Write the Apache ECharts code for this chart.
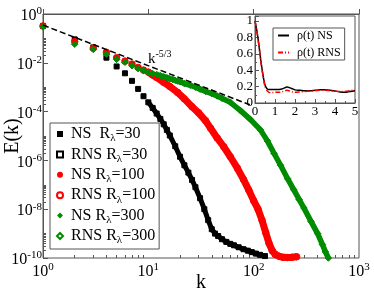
<!DOCTYPE html>
<html><head><meta charset="utf-8">
<script src="https://cdn.jsdelivr.net/npm/echarts@6/dist/echarts.min.js"></script>
<style>html,body{margin:0;padding:0;background:#fff}#c{width:374px;height:289px}</style>
</head><body><div id="c"></div>
<script>
// ---- data (E values given as log10 E) ----
const ns30K = [1,2,3,4,5,6,7,8,9,10,11,12,13,14,15,16,18,20,22,24,26,28,31,34,37,40,43,46,50,55,60,65,72,80,88,96,105,115,128];
const ns30LogE = [-0.49,-1.04,-1.37,-1.79,-2.15,-2.43,-2.74,-3.07,-3.37,-3.62,-3.85,-4.08,-4.3,-4.52,-4.75,-4.98,-5.42,-5.85,-6.2,-6.5,-6.8,-7.1,-7.55,-8.0,-8.45,-8.82,-9.0,-9.1,-9.23,-9.34,-9.42,-9.48,-9.56,-9.64,-9.7,-9.76,-9.82,-9.87,-9.92];
const ns100K = [1,2,3,4,5,6,7,8,9,10,11,12,14,16,19,22,26,30,35,39,45,52,60,70,80,90,100,110,120,130,140,150,160,175,190,210,230,256];
const ns100LogE = [-0.49,-1.13,-1.40,-1.57,-1.79,-1.93,-2.05,-2.19,-2.3,-2.38,-2.5,-2.6,-2.8,-2.97,-3.22,-3.48,-3.8,-4.05,-4.38,-4.68,-5.08,-5.44,-5.85,-6.32,-6.78,-7.22,-7.65,-8.0,-8.45,-8.95,-9.4,-9.7,-9.85,-9.93,-9.97,-9.98,-9.97,-9.95];
const ns300K = [1,2,3,4,5,6,7,8,9,10,11,12,13,14,15,16,17,18,19,20,22,25,28,31,35,40,45,50,60,75,93,116,135,156,180,210,240,270,300,350,405,450,480,512];
const ns300LogE = [-0.53,-1.24,-1.45,-1.65,-1.86,-1.98,-2.12,-2.24,-2.33,-2.4,-2.44,-2.48,-2.53,-2.57,-2.61,-2.65,-2.68,-2.72,-2.75,-2.78,-2.85,-2.92,-3.0,-3.08,-3.17,-3.26,-3.36,-3.45,-3.62,-3.96,-4.32,-4.75,-5.2,-5.71,-6.2,-6.75,-7.2,-7.6,-7.95,-8.5,-9.0,-9.45,-9.75,-10.0];
// RNS spectra lie on top of the NS spectra in the picture
const rns30LogE = ns30LogE, rns100LogE = ns100LogE, rns300LogE = ns300LogE;
// k^-5/3 reference line end points
const refK = [1, 92];
const refE = [0.35, 1.9e-4];
// inset: correlation rho(t)
const insetT = [0,0.1,0.2,0.3,0.4,0.5,0.6,0.7,0.8,1.0,1.2,1.4,1.6,1.8,2.0,2.25,2.5,2.75,3.0,3.25,3.5,3.75,4.0,4.25,4.5,4.75,5.0];
const rhoNS  = [1.0,0.87,0.70,0.50,0.34,0.22,0.175,0.165,0.165,0.165,0.165,0.175,0.195,0.18,0.16,0.155,0.15,0.15,0.155,0.16,0.16,0.155,0.145,0.135,0.13,0.14,0.15];
const rhoRNS = [1.0,0.86,0.69,0.49,0.33,0.2,0.15,0.13,0.125,0.13,0.13,0.14,0.155,0.14,0.13,0.135,0.14,0.145,0.15,0.155,0.155,0.15,0.145,0.14,0.14,0.15,0.16];
// tick labels
const xTickExps = [0,1,2,3];
const yTickExps = [0,-2,-4,-6,-8,-10];
const yMinorTicks = [];
[-10,-8,-6,-4,-2].forEach(e=>{[2,3,4,5,6,7,8,9,10].forEach(m=>yMinorTicks.push(e+Math.log10(m)));});
const xMinorTicks = [];
[0,1,2].forEach(e=>{[2,3,4,5,6,7,8,9].forEach(m=>xMinorTicks.push(e+Math.log10(m)));});

const FONT = 'Liberation Serif';
const pairs = (ks, logs) => ks.map((k,i)=>[k, Math.pow(10, logs[i])]);
const tail = (arr, kmin) => arr.filter(p=>p[0]>=kmin);

const supRich = {
  b:{fontFamily:FONT,fontSize:16,color:'#000',lineHeight:16,padding:[4,0,0,0]},
  s:{fontFamily:FONT,fontSize:11,color:'#000',lineHeight:11,verticalAlign:'top'}
};
function powLabel(exps){
  return function(v){
    const e = Math.round(Math.log10(v));
    if (exps.indexOf(e) < 0) return '';
    return '{b|10}{s|' + e + '}';
  };
}
const FRAME = '#555';
const BLACK='#000', RED='#ff0000', GREEN='#008c00';

const d30 = pairs(ns30K, ns30LogE), r30 = pairs(ns30K, rns30LogE);
const d100 = pairs(ns100K, ns100LogE), r100 = pairs(ns100K, rns100LogE);
const d300 = pairs(ns300K, ns300LogE), r300 = pairs(ns300K, rns300LogE);

const names = ['NS  Rλ=30','RNS Rλ=30','NS Rλ=100','RNS Rλ=100','NS Rλ=300','RNS Rλ=300'];

function scatter(name, data, symbol, size, color, hollow){
  return {type:'scatter', name, data, xAxisIndex:0, yAxisIndex:0, symbol, symbolSize:size, clip:false, z:3,
    itemStyle: hollow ? {color:'rgba(0,0,0,0)', borderColor:color, borderWidth:1, opacity:1} : {color, opacity:1},
    emphasis:{disabled:true}};
}
function tailLine(data, color, width){
  return {type:'line', data, xAxisIndex:0, yAxisIndex:0, symbol:'none', clip:false, z:2,
    lineStyle:{color, width, cap:'butt', join:'round'}, emphasis:{disabled:true}, silent:true};
}

const option = {
  animation:false,
  grid:[
    {left:43, top:14, right:15, bottom:31, show:true, borderColor:FRAME, borderWidth:1, backgroundColor:'transparent', z:0, outerBoundsMode:'none', containLabel:false},
    {left:255, top:16, right:19, bottom:186, show:true, borderColor:FRAME, borderWidth:1, backgroundColor:'#fff', z:5, outerBoundsMode:'none', containLabel:false}
  ],
  xAxis:[
    {type:'log', logBase:10, gridIndex:0, min:1, max:1000, interval:1,
     axisLine:{show:true, lineStyle:{color:FRAME,width:1}},
     axisTick:{show:true, inside:true, length:5, lineStyle:{color:FRAME}},
     axisLabel:{margin:4, interval:0, hideOverlap:false, formatter:powLabel(xTickExps), rich:supRich},
     splitLine:{show:false}, minorTick:{show:false},
     name:'k', nameLocation:'middle', nameGap:15, nameMoveOverlap:false,
     nameTextStyle:{fontFamily:FONT,fontSize:20,color:'#000'}},
    {type:'value', gridIndex:0, min:0, max:3, position:'bottom',
     axisLine:{show:false}, axisLabel:{show:false}, splitLine:{show:false},
     axisTick:{show:true, inside:true, length:3, customValues:xMinorTicks, lineStyle:{color:FRAME}}},
    {type:'value', gridIndex:1, min:0, max:5, interval:1, z:6,
     axisLine:{show:true, lineStyle:{color:FRAME}},
     axisTick:{show:true, inside:true, length:4, lineStyle:{color:FRAME}},
     minorTick:{show:true, splitNumber:2, length:2, lineStyle:{color:FRAME}},
     axisLabel:{margin:2, fontFamily:FONT, fontSize:13, color:'#000'},
     splitLine:{show:false}}
  ],
  yAxis:[
    {type:'log', logBase:10, gridIndex:0, min:1e-10, max:1, interval:2,
     axisLine:{show:true, lineStyle:{color:FRAME,width:1}},
     axisTick:{show:true, inside:true, length:5, lineStyle:{color:FRAME}},
     axisLabel:{margin:1, interval:0, hideOverlap:false, formatter:powLabel(yTickExps), rich:supRich},
     splitLine:{show:false}, minorTick:{show:false},
     name:'E(k)', nameLocation:'middle', nameGap:20, nameMoveOverlap:false,
     nameTextStyle:{fontFamily:FONT,fontSize:20,color:'#000'}},
    {type:'value', gridIndex:0, min:-10, max:0, position:'left',
     axisLine:{show:false}, axisLabel:{show:false}, splitLine:{show:false},
     axisTick:{show:true, inside:true, length:3, customValues:yMinorTicks, lineStyle:{color:FRAME}}},
    {type:'value', gridIndex:1, min:0, max:1.06, interval:0.2, z:6,
     axisLine:{show:true, lineStyle:{color:FRAME}},
     axisTick:{show:true, inside:true, length:4, lineStyle:{color:FRAME}},
     minorTick:{show:true, splitNumber:2, length:2, lineStyle:{color:FRAME}},
     axisLabel:{margin:2, fontFamily:FONT, fontSize:13, color:'#000', showMaxLabel:false},
     splitLine:{show:false}}
  ],
  legend:[
    {data:names, left:50, top:123, orient:'vertical', selectedMode:false,
     backgroundColor:'#fff', borderColor:FRAME, borderWidth:1, padding:[1,4,3,6],
     itemWidth:6, itemHeight:6, itemGap:0.4, z:4,
     formatter:function(n){ const i=n.indexOf('λ'); return '{p|}{a|'+n.slice(0,i)+'}{s|λ}{a|'+n.slice(i+1)+'}'; },
     textStyle:{fontFamily:FONT,fontSize:16,color:'#000',lineHeight:20,
       rich:{p:{width:3,lineHeight:20},
             a:{fontFamily:FONT,fontSize:16,color:'#000',lineHeight:20},
             s:{fontFamily:FONT,fontSize:11,color:'#000',lineHeight:11,verticalAlign:'bottom'}}}},
    {data:['ρ(t) NS','ρ(t) RNS'], left:273, top:28, orient:'vertical', selectedMode:false,
     backgroundColor:'#fff', borderColor:FRAME, borderWidth:1, padding:[1,4,1,4],
     itemWidth:11, itemHeight:8, itemGap:4, z:8,
     itemStyle:{opacity:0},
     formatter:function(n){ return '{p|}{a|'+n+'}'; },
     textStyle:{fontFamily:FONT,fontSize:12,color:'#000',lineHeight:13,
       rich:{p:{width:3,lineHeight:13}, a:{fontFamily:FONT,fontSize:12,color:'#000',lineHeight:13}}}}
  ],
  graphic:[
    {type:'text', left:148, top:46.5, z:10,
     style:{text:'{k|k}{s|-5/3}', rich:{
       k:{fontFamily:FONT,fontSize:15,fill:'#000',lineHeight:15,padding:[5,0,0,0]},
       s:{fontFamily:FONT,fontSize:10,fill:'#000',lineHeight:10,verticalAlign:'top'}}}}
  ],
  series:[
    tailLine(tail(d30,10), BLACK, 5),
    scatter(names[0], d30, 'rect', 5, BLACK, false),
    scatter(names[1], r30, 'rect', 5, BLACK, true),
    tailLine(tail(d100,10), RED, 7),
    scatter(names[2], d100, 'circle', 6.5, RED, false),
    scatter(names[3], r100, 'circle', 6.5, RED, true),
    tailLine(tail(d300,12), GREEN, 5.5),
    scatter(names[4], d300, 'diamond', 6.5, GREEN, false),
    scatter(names[5], r300, 'diamond', 6.5, GREEN, true),
    {type:'line', name:'ref', data:refK.map((k,i)=>[k,refE[i]]), xAxisIndex:0, yAxisIndex:0, symbol:'none', z:4,
     lineStyle:{color:'#000', width:1.5, type:[6,3]}, silent:true},
    {type:'line', name:'ρ(t) NS', data:insetT.map((t,i)=>[t,rhoNS[i]]), xAxisIndex:2, yAxisIndex:2,
     symbol:'circle', showSymbol:false, smooth:0.3, z:7, lineStyle:{color:'#000', width:1.5}, itemStyle:{color:'#000'}},
    {type:'line', name:'ρ(t) RNS', data:insetT.map((t,i)=>[t,rhoRNS[i]]), xAxisIndex:2, yAxisIndex:2,
     symbol:'circle', showSymbol:false, smooth:0.3, z:7, lineStyle:{color:RED, width:1.5, type:[5,2,1,2]}, itemStyle:{color:RED}}
  ]
};
echarts.init(document.getElementById('c')).setOption(option);
</script></body></html>
